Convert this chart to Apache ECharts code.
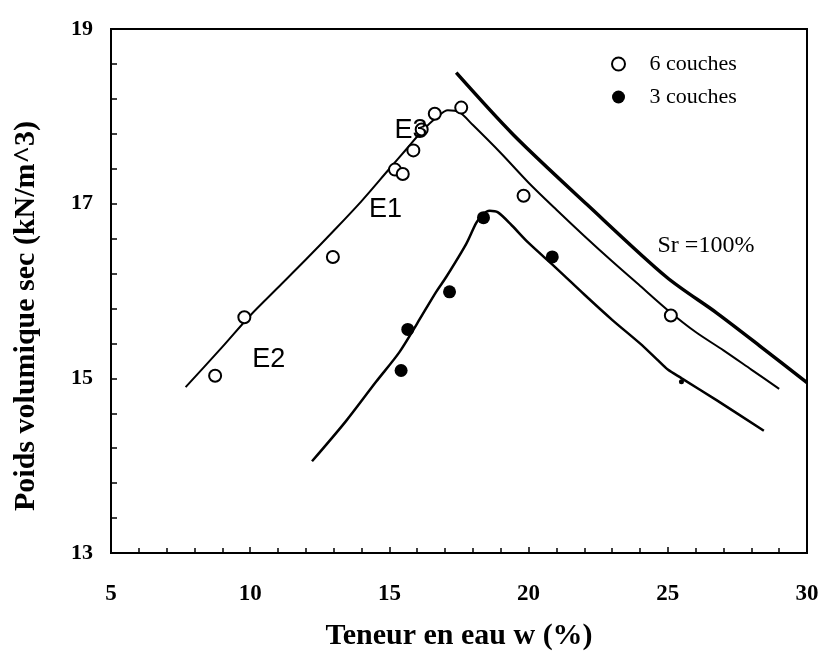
<!DOCTYPE html>
<html>
<head>
<meta charset="utf-8">
<script src="https://cdn.jsdelivr.net/npm/echarts@6/dist/echarts.min.js"></script>
<style>html,body{margin:0;padding:0;background:#fff;}#c{width:823px;height:656px;}</style>
</head>
<body>
<div id="c"></div>
<script>
// Data (x = teneur en eau w %, y = poids volumique sec kN/m^3)
const couches6 = [[8.74,15.03],[9.79,15.70],[12.97,16.39],[15.20,17.39],[15.48,17.34],[15.86,17.61],[16.16,17.85],[16.63,18.03],[17.58,18.10],[19.82,17.09],[25.11,15.72]];
const couches3 = [[15.42,15.09],[15.66,15.56],[17.16,15.99],[18.38,16.84],[20.85,16.39]];
const couches3Partial = [[25.49,14.96]];
const curve6 = [[7.68,14.90],[9.0,15.36],[10.0,15.72],[11.0,16.04],[12.0,16.36],[13.0,16.69],[14.0,17.03],[15.0,17.40],[15.6,17.62],[16.2,17.84],[16.7,17.99],[17.1,18.07],[17.5,18.05],[18.0,17.90],[19.0,17.58],[20.0,17.24],[21.0,16.93],[22.0,16.63],[23.0,16.34],[24.0,16.06],[25.0,15.78],[26.0,15.53],[27.0,15.32],[28.0,15.10],[29.0,14.88]];
const curve3 = [[12.22,14.05],[13.44,14.51],[14.52,14.96],[15.36,15.30],[16.0,15.63],[16.68,15.99],[17.04,16.16],[17.76,16.54],[18.12,16.78],[18.36,16.88],[18.6,16.92],[18.9,16.90],[19.4,16.75],[20.0,16.55],[21.0,16.26],[22.0,15.96],[23.0,15.67],[24.0,15.40],[24.6,15.22],[25.0,15.10],[25.5,15.00],[26.75,14.75],[28.45,14.40]];
const srCurve = [[17.40,18.50],[19.45,17.79],[22.10,16.99],[24.95,16.16],[26.75,15.75],[28.31,15.37],[30.0,14.95]];
const xTicks = {min:5, max:30, step:5};
const yTicks = {min:13, max:19, step:2};
const curveLabels = [{name:'E1', value:[14.86,16.93]},{name:'E2', value:[10.67,15.22]},{name:'E3', value:[15.78,17.84]}];
const srLabel = [{name:'Sr =100%', value:[26.37,16.52]}];

const serif = 'Liberation Serif';
const chart = echarts.init(document.getElementById('c'), null, {renderer:'canvas'});
chart.setOption({
  animation:false,
  backgroundColor:'#fff',
  grid:{left:111,right:16,top:29,bottom:96,show:true,borderColor:'#000',borderWidth:2,containLabel:false},
  legend:{
    data:['6 couches','3 couches'], orient:'vertical', left:606, top:48,
    itemWidth:36, itemHeight:13, itemGap:11,
    textStyle:{fontFamily:serif,fontSize:22,color:'#000',padding:[0,0,0,8]}
  },
  xAxis:{
    type:'value', min:xTicks.min, max:xTicks.max, interval:xTicks.step,
    axisLine:{show:true,lineStyle:{color:'#000',width:2}},
    axisTick:{show:true,inside:true,length:6,lineStyle:{color:'#000',width:1.5}},
    minorTick:{show:true,splitNumber:5,length:5,lineStyle:{color:'#000',width:1.5}},
    splitLine:{show:false},
    axisLabel:{fontFamily:serif,fontWeight:'bold',fontSize:23,color:'#000',margin:30},
    name:'Teneur en eau w (%)', nameLocation:'middle', nameGap:68,
    nameTextStyle:{fontFamily:serif,fontWeight:'bold',fontSize:30,color:'#000'}
  },
  yAxis:{
    type:'value', min:yTicks.min, max:yTicks.max, interval:yTicks.step,
    axisLine:{show:true,lineStyle:{color:'#000',width:2}},
    axisTick:{show:true,inside:true,length:6,lineStyle:{color:'#000',width:1.5}},
    minorTick:{show:true,splitNumber:5,length:6,lineStyle:{color:'#000',width:1.5}},
    splitLine:{show:false},
    axisLabel:{fontFamily:serif,fontWeight:'bold',fontSize:22,color:'#000',margin:18},
    name:'Poids volumique sec (kN/m^3)', nameLocation:'middle', nameGap:70, nameRotate:90,
    nameTextStyle:{fontFamily:serif,fontWeight:'bold',fontSize:30,color:'#000',padding:[0,50,0,0]}
  },
  series:[
    {type:'line', name:'courbe 6', data:curve6, smooth:0.3, showSymbol:false, lineStyle:{color:'#000',width:2}, silent:true, z:2},
    {type:'line', name:'courbe 3', data:curve3, smooth:0.3, showSymbol:false, lineStyle:{color:'#000',width:2.5}, silent:true, z:2},
    {type:'line', name:'Sr', data:srCurve, smooth:0.3, showSymbol:false, lineStyle:{color:'#000',width:3.5}, silent:true, z:2},
    {type:'scatter', name:'6 couches', data:couches6, symbol:'emptyCircle', symbolSize:12, itemStyle:{color:'#000',borderColor:'#000',borderWidth:2,opacity:1}, z:4},
    {type:'scatter', name:'3 couches', data:couches3, symbol:'circle', symbolSize:13, itemStyle:{color:'#000',opacity:1}, z:4},
    {type:'scatter', name:'3 couches partiel', data:couches3Partial, symbol:'circle', symbolSize:5, itemStyle:{color:'#000',opacity:1}, z:4},
    {type:'scatter', name:'labels', data:curveLabels, symbol:'circle', symbolSize:1, itemStyle:{color:'rgba(0,0,0,0)',opacity:1}, silent:true, z:5,
      label:{show:true, position:'inside', formatter:'{b}', fontFamily:'Liberation Sans', fontSize:27, color:'#000', opacity:1}},
    {type:'scatter', name:'srlabel', data:srLabel, symbol:'circle', symbolSize:1, itemStyle:{color:'rgba(0,0,0,0)',opacity:1}, silent:true, z:5,
      label:{show:true, position:'inside', formatter:'{b}', fontFamily:serif, fontSize:24, color:'#000', opacity:1}}
  ]
});
</script>
</body>
</html>
